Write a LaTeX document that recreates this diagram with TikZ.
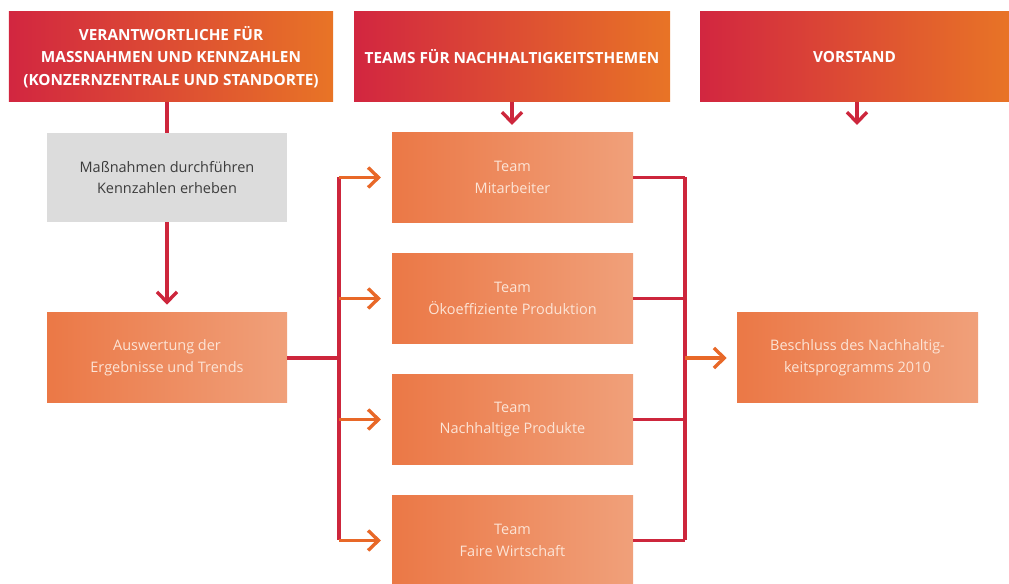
\documentclass[tikz,border=0pt]{standalone}
\usepackage{fontspec}
\setmainfont{Open Sans}
\usepackage{xcolor}
\usepackage{tikz}
\usetikzlibrary{arrows.meta}

\definecolor{headL}{RGB}{210,38,64}
\definecolor{headR}{RGB}{232,116,38}
\definecolor{boxL}{RGB}{235,120,70}
\definecolor{boxR}{RGB}{240,160,122}
\definecolor{boxtext}{RGB}{252,228,214}
\definecolor{greybox}{RGB}{220,220,220}
\definecolor{greytext}{RGB}{60,60,60}
\definecolor{linered}{RGB}{205,38,60}
\definecolor{arroworange}{RGB}{232,104,40}

\begin{document}
\begin{tikzpicture}[
    head/.style={rectangle, left color=headL, right color=headR, text=white,
        minimum height=2.25cm, align=center,
        font=\fontsize{10.9}{15.8}\selectfont\bfseries},
    taskbox/.style={rectangle, fill=greybox, text=greytext,
        minimum width=6cm, minimum height=2.225cm, align=center,
        font=\fontsize{10.3}{15.5}\selectfont},
    teambox/.style={rectangle, left color=boxL, right color=boxR, text=boxtext,
        minimum width=6.025cm, minimum height=2.25cm, align=center,
        font=\fontsize{10.3}{15.5}\selectfont},
    link/.style={line width=2.4pt, linered},
    feed/.style={line width=2.4pt, arroworange, -{Straight Barb[length=2.6mm,width=5mm,line width=2.4pt]}, shorten >=0.27cm},
    down/.style={line width=2.4pt, linered, -{Straight Barb[length=2.6mm,width=5mm,line width=2.4pt]}}
]
        \useasboundingbox (0,0) rectangle (25.225,14.575);

        % Column heads
        \node[head, minimum width=8.1cm] (resp) at (4.275, 13.15) {VERANTWORTLICHE FÜR\\MASSNAHMEN UND KENNZAHLEN\\(KONZERNZENTRALE UND STANDORTE)};
        \node[head, minimum width=7.9cm] (teams) at (12.8, 13.15) {TEAMS FÜR NACHHALTIGKEITSTHEMEN};
        \node[head, minimum width=7.725cm] (board) at (21.3625, 13.15) {VORSTAND};

        % Left column
        \node[taskbox] (task) at (4.175, 10.1375) {Maßnahmen durchführen\\Kennzahlen erheben};
        \node[teambox, minimum width=6cm] (aus) at (4.175, 5.625) {Auswertung der\\Ergebnisse und Trends};

        % Teams
        \node[teambox] (mit) at (12.8125, 10.1375) {Team\\Mitarbeiter};
        \node[teambox] (oeko) at (12.8125, 7.1125) {Team\\Ökoeffiziente Produktion};
        \node[teambox] (prod) at (12.8125, 4.0875) {Team\\Nachhaltige Produkte};
        \node[teambox] (fair) at (12.8125, 1.0625) {Team\\Faire Wirtschaft};

        % Board decision
        \node[teambox] (besch) at (21.4375, 5.625) {Beschluss des Nachhaltig-\\keitsprogramms 2010};

        % Bus lines and arrow ends
        \coordinate (lbus) at (8.475, 0);
        \coordinate (rbus) at (17.125, 0);
        \coordinate (teamsout) at (12.8, 11.45);
        \coordinate (boardout) at (21.425, 11.45);

        % Connections
        \draw[link] (resp.south -| task) -- (task);
        \draw[down, shorten >=0.2cm] (task) -- (aus);
        \draw[down] (teams.south -| teamsout) -- (teamsout);
        \draw[down] (board.south -| boardout) -- (boardout);

        \draw[link] (aus) -- (aus -| lbus);
        \draw[link] (lbus |- mit) -- (lbus |- fair);
        \foreach \t in {mit,oeko,prod,fair} {
            \draw[feed] (lbus |- \t) -- (\t);
            \draw[link] (\t) -- (rbus |- \t);
        }
        \draw[link] (rbus |- mit) -- (rbus |- fair);
        \draw[feed, shorten >=0.25cm] (rbus |- besch) -- (besch);
    \end{tikzpicture}
\end{document}
